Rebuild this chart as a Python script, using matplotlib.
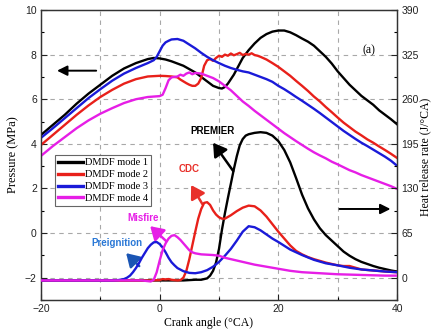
import matplotlib
matplotlib.use("Agg")
import matplotlib.pyplot as plt
from matplotlib.ticker import MultipleLocator

# ---------------- data ----------------
mode_labels = ["DMDF mode 1", "DMDF mode 2", "DMDF mode 3", "DMDF mode 4"]
mode_colors = ["#000000", "#e8201a", "#1a1ad8", "#e61ee6"]

# in-cylinder pressure (MPa) vs crank angle (deg CA)
p1_ca = [-20, -18, -16, -14, -12, -10, -8, -6, -4, -2, -1, 0, 1, 2, 3, 4, 5, 6, 7, 8, 9, 10, 10.5,
         11, 11.5, 12, 12.5, 13, 13.5, 14, 15, 16, 17, 18, 19, 20, 21, 22, 23, 24, 25, 26, 27, 28,
         29, 30, 31, 32, 33, 34, 35, 36, 37, 38, 39, 40]
p1 = [4.4, 4.85, 5.3, 5.8, 6.25, 6.65, 7.05, 7.38, 7.62, 7.8, 7.85, 7.83, 7.78, 7.7, 7.6, 7.5, 7.35,
      7.2, 7.0, 6.8, 6.6, 6.5, 6.48, 6.55, 6.7, 6.9, 7.1, 7.35, 7.6, 7.85, 8.2, 8.5, 8.75, 8.92,
      9.03, 9.08, 9.08, 9.0, 8.87, 8.72, 8.58, 8.4, 8.15, 7.9, 7.6, 7.25, 6.95, 6.65, 6.4, 6.15,
      5.95, 5.75, 5.5, 5.3, 5.1, 4.88]

p2_ca = [-20, -18, -16, -14, -12, -10, -8, -6, -4, -2, 0, 1, 2, 3, 3.5, 4, 4.5, 5, 5.5, 6, 6.5, 7,
         7.5, 8, 8.5, 9, 9.5, 10, 10.5, 11, 11.5, 12, 12.5, 13, 13.5, 14, 14.5, 15, 15.5, 16, 16.5,
         17, 18, 19, 20, 21, 22, 23, 24, 25, 26, 27, 28, 29, 30, 31, 32, 33, 34, 35, 36, 37, 38,
         39, 40]
p2 = [3.95, 4.4, 4.85, 5.3, 5.72, 6.1, 6.42, 6.7, 6.9, 7.02, 7.05, 7.04, 7.02, 6.98, 6.88, 6.8,
      6.72, 6.65, 6.6, 6.6, 6.7, 6.95, 7.5, 7.75, 7.8, 7.72, 7.85, 7.95, 7.9, 8.0, 7.95, 8.05,
      7.97, 8.02, 8.08, 7.98, 8.03, 8.0, 8.06, 7.98, 7.95, 7.9, 7.78, 7.62, 7.45, 7.25, 7.05,
      6.82, 6.6, 6.37, 6.12, 5.9, 5.65, 5.42, 5.18, 4.95, 4.75, 4.55, 4.38, 4.2, 4.05, 3.88,
      3.72, 3.55, 3.37]

p3_ca = [-20, -18, -16, -14, -12, -10, -8, -6, -4, -2, -1, -0.5, 0, 0.5, 1, 1.5, 2, 3, 4, 5, 6, 7,
         8, 9, 10, 11, 12, 13, 14, 15, 16, 17, 18, 19, 20, 21, 22, 23, 24, 25, 26, 27, 28, 29,
         30, 31, 32, 33, 34, 35, 36, 37, 38, 39, 40]
p3 = [4.27, 4.7, 5.15, 5.6, 6.05, 6.45, 6.83, 7.15, 7.4, 7.62, 7.75, 7.9, 8.15, 8.4, 8.55, 8.62,
      8.68, 8.7, 8.62, 8.45, 8.28, 8.08, 7.9, 7.75, 7.62, 7.5, 7.4, 7.32, 7.25, 7.2, 7.1, 7.0,
      6.9, 6.78, 6.6, 6.45, 6.28, 6.1, 5.93, 5.75, 5.57, 5.38, 5.18, 4.98, 4.78, 4.58, 4.4,
      4.22, 4.05, 3.9, 3.74, 3.58, 3.42, 3.24, 3.02]

p4_ca = [-20, -18, -16, -14, -12, -10, -8, -6, -4, -2, -1, 0, 0.5, 1, 1.5, 2, 3, 3.5, 4, 4.5, 5,
         5.5, 6, 7, 8, 9, 10, 11, 12, 13, 14, 15, 16, 17, 18, 19, 20, 21, 22, 23, 24, 25, 26, 27,
         28, 29, 30, 31, 32, 33, 34, 35, 36, 37, 38, 39, 40]
p4 = [3.46, 3.9, 4.3, 4.7, 5.05, 5.35, 5.6, 5.83, 6.0, 6.1, 6.12, 6.14, 6.2, 6.5, 6.85, 6.98, 7.02,
      7.1, 7.05, 7.15, 7.2, 7.12, 7.18, 7.15, 7.05, 6.95, 6.8, 6.6, 6.4, 6.15, 5.9, 5.7, 5.48,
      5.28, 5.08, 4.88, 4.68, 4.48, 4.3, 4.12, 3.95, 3.78, 3.62, 3.48, 3.35, 3.2, 3.08, 2.95,
      2.82, 2.72, 2.6, 2.5, 2.4, 2.3, 2.2, 2.1, 1.98]

# heat release rate (J/deg CA) vs crank angle (deg CA)
h1_ca = [-20, -10, 0, 4, 5, 6, 7, 8, 8.5, 9, 9.5, 10, 10.5, 11, 11.5, 12, 12.5, 13, 13.5, 14,
         14.5, 15, 16, 17, 18, 19, 20, 21, 22, 23, 24, 25, 26, 27, 28, 29, 30, 31, 32, 33, 34,
         35, 36, 37, 38, 39, 40]
h1 = [-4, -4, -4, -4, -3.5, -3, -3, -1, 3, 10, 22, 42, 70, 94, 116, 137, 158, 177, 193, 202, 207,
      209, 211, 212, 211, 207, 199, 186, 168, 145, 121, 101, 85, 72, 62, 54, 46, 38, 32, 27, 23,
      20, 17, 14.5, 12.5, 10.5, 9]

h2_ca = [-20, -10, -2, 0, 0.5, 1, 1.5, 2, 3, 3.5, 4, 4.5, 5, 5.5, 6, 6.5, 7, 7.5, 8, 8.5, 9, 9.5,
         10, 10.5, 11, 12, 13, 14, 15, 16, 17, 18, 19, 20, 21, 22, 23, 24, 25, 26, 27, 28, 30,
         31, 32, 33, 34, 36, 38, 40]
h2 = [-4, -4, -4, -3.5, -2, -2.5, -2, -3, -4, -3.5, 0, 10, 27, 47, 67, 86, 100, 109, 110, 106, 98,
      92, 88, 86, 86, 91, 97, 102, 105, 104, 98, 89, 78, 67, 57, 47, 39, 34, 30, 27, 24.5, 22,
      18, 17, 17, 14.5, 12, 10.5, 9, 8]

h3_ca = [-20, -10, -8, -7, -6, -5.5, -5, -4.5, -4, -3.5, -3, -2.5, -2, -1.5, -1, -0.5, 0, 0.5, 1,
         1.5, 2, 2.5, 3, 4, 5, 6, 7, 8, 9, 10, 11, 12, 13, 14, 15, 16, 17, 18, 19, 20, 21, 22, 23,
         24, 25, 26, 27, 28, 30, 32, 34, 36, 38, 40]
h3 = [-4, -4, -4, -3.5, -2, 0, 3, 8, 14, 21, 29, 36, 43, 48, 51.5, 52, 49, 44, 37, 29, 22.5, 18, 14,
      9.5, 7, 6.5, 8, 11, 16, 23, 32, 42, 54, 67, 75, 73.5, 69, 63, 57, 52, 46.5, 41, 37, 33, 29.5,
      26, 23.5, 21, 18, 14.5, 12, 10.5, 9, 8]

h4_ca = [-20, -10, -3, -2, -1.5, -1, -0.5, 0, 0.5, 1, 1.5, 2, 2.5, 3, 3.5, 4, 4.5, 5, 5.5, 6, 7, 8,
         9, 10, 11, 12, 14, 16, 18, 20, 22, 24, 26, 28, 30, 32, 34, 36, 38, 40]
h4 = [-4, -4, -4, -5, -5.5, -3, 8, 25, 40, 50, 57, 61, 62, 59, 55, 50, 45, 40, 37, 35.5, 34, 33.5,
      33, 32, 29, 27, 23, 19, 16, 13, 10, 8, 7, 6, 5, 4.5, 4, 3.5, 3, 3]

ca_ticks = [-20, 0, 20, 40]
p_ticks = [-2, 0, 2, 4, 6, 8, 10]
hrr_ticks = [0, 65, 130, 195, 260, 325, 390]

# ---------------- figure ----------------
W, H = 434, 335
fig = plt.figure(figsize=(W / 100, H / 100), dpi=100)
ax = fig.add_axes([41 / W, 1 - 300 / H, 356 / W, 290 / H])
ax2 = ax.twinx()

serif = "Liberation Serif"

lw = 1.7
press = [(p1_ca, p1), (p2_ca, p2), (p3_ca, p3), (p4_ca, p4)]
hrr = [(h1_ca, h1), (h2_ca, h2), (h3_ca, h3), (h4_ca, h4)]
handles = []
for (xc, yc), col, lab in zip(press, mode_colors, mode_labels):
    ln, = ax.plot(xc, yc, color=col, lw=lw, label=lab, zorder=3)
    handles.append(ln)
for (xc, yc), col in zip(hrr, mode_colors):
    ax2.plot(xc, yc, color=col, lw=lw, zorder=3)

ax.set_xlim(-20, 40)
ax.set_ylim(-3, 10)
ax2.set_ylim(-32.5, 390)

ax.set_xticks(ca_ticks)
ax.xaxis.set_minor_locator(MultipleLocator(10))
ax.set_yticks(p_ticks)
ax.yaxis.set_minor_locator(MultipleLocator(1))
ax2.set_yticks(hrr_ticks)
ax2.yaxis.set_minor_locator(MultipleLocator(32.5))

for a in (ax, ax2):
    a.tick_params(which="major", direction="in", length=4, width=0.8, pad=3,
                  labelsize=7.5, colors="#222222")
    a.tick_params(which="minor", direction="in", length=2, width=0.8)
    for lbl in a.get_xticklabels() + a.get_yticklabels():
        lbl.set_fontfamily("Liberation Sans")
    for s in a.spines.values():
        s.set_linewidth(0.9)
        s.set_color("#333333")
ax.tick_params(top=False, right=False)
ax.tick_params(which="minor", top=False, right=False)

# dashed grid
grid_kw = dict(color="#a8a8a8", lw=0.8, ls=(0, (4, 4)), zorder=1)
for gx in [-10, 0, 10, 20, 30]:
    ax.axvline(gx, **grid_kw)
for gy in [-2, 0, 2, 4, 6, 8]:
    ax.axhline(gy, **grid_kw)

# axis labels
fig.text(208 / W, 1 - 323 / H, "Crank angle (°CA)", ha="center", va="center",
         family=serif, size=8.5)
fig.text(13 / W, 1 - 155 / H, "Pressure (MPa)", ha="center", va="center", rotation=90,
         family=serif, size=9)
fig.text(425 / W, 1 - 157 / H, "Heat release rate (J/°CA)", ha="center", va="center",
         rotation=90, family=serif, size=8.5)

# legend
leg = ax.legend(handles=handles, loc="upper left", bbox_to_anchor=(55 / W, 1 - 155 / H),
                bbox_transform=fig.transFigure, prop=dict(family=serif, size=7.5),
                frameon=True, fancybox=False, framealpha=1, edgecolor="#666666",
                handlelength=2.4, handletextpad=0.15, labelspacing=0.25, borderpad=0.3,
                borderaxespad=0)
leg.get_frame().set_linewidth(0.8)
for h in leg.legend_handles:
    h.set_linewidth(2.4)
leg.set_zorder(5)

# annotations
def mark(text, txy, head, tail, tcol, acol):
    ax.text(txy[0], txy[1], text, ha="center", va="center", color=tcol,
            family="Liberation Sans", weight="bold", size=7, zorder=6)
    ax.annotate("", xy=head, xytext=tail,
                arrowprops=dict(arrowstyle="-|>,head_length=0.65,head_width=0.4",
                                color=acol, lw=1.8, mutation_scale=12,
                                shrinkA=0, shrinkB=0), zorder=6)

mark("PREMIER", (8.9, 4.58), (9.0, 4.05), (12.4, 2.78), "#000000", "#000000")
mark("CDC", (5.0, 2.88), (5.3, 2.15), (7.2, 1.3), "#e8302a", "#e8302a")
mark("Misfire", (-2.8, 0.67), (-1.6, 0.31), (1.1, -0.36), "#e61ee6", "#e61ee6")
mark("Preignition", (-7.2, -0.45), (-5.65, -0.9), (-3.45, -1.48), "#2a78d6", "#1a55b4")

# direction arrows for the two axes
arrow_kw = dict(arrowstyle="-|>,head_length=0.5,head_width=0.25", color="black", lw=1.4,
                mutation_scale=12, shrinkA=0, shrinkB=0)
ax.annotate("", xy=(-17.3, 7.28), xytext=(-10.7, 7.28), arrowprops=arrow_kw)
ax.annotate("", xy=(38.9, 1.08), xytext=(30.3, 1.08), arrowprops=arrow_kw)

ax.text(35.2, 8.18, "(a)", ha="center", va="center", family=serif, size=8.5)

fig.savefig("out.png", dpi=100)
